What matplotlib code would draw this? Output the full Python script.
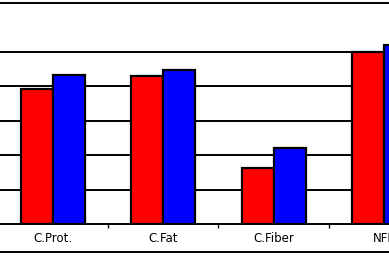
import matplotlib
matplotlib.use("Agg")
import matplotlib.pyplot as plt
from matplotlib.lines import Line2D
import numpy as np

categories = ["C.Prot.", "C.Fat", "C.Fiber", "NFE"]
series_red = [39.2, 43.0, 16.3, 49.9]
series_blue = [43.3, 44.8, 22.1, 52.1]
gridlines = [10, 20, 30, 40, 50]

W, H = 389, 257
fig = plt.figure(figsize=(W / 100, H / 100), dpi=100)
ax = fig.add_axes([0, 33 / H, 1, 221.3 / H])

x = np.arange(len(categories))
bw = 0.29
ax.bar(x - bw / 2, series_red, width=bw, color="#FF0000", edgecolor="black",
       linewidth=1.6, zorder=3)
ax.bar(x + bw / 2, series_blue, width=bw, color="#0000FF", edgecolor="black",
       linewidth=1.6, zorder=3)

ax.set_xlim(-53 / 110.3, 336 / 110.3)
ax.set_ylim(0, 64.3)

for g in gridlines:
    ax.axhline(g, color="black", linewidth=1.4, zorder=1)

ax.set_yticks([])
ax.set_xticks(x)
ax.set_xticklabels(categories, fontsize=8.5, family="DejaVu Sans")
ax.tick_params(axis="x", which="major", length=0, pad=6)
ax.set_xticks([0.5, 1.5, 2.5], minor=True)
ax.tick_params(axis="x", which="minor", length=3, width=1, direction="out")

ax.spines["left"].set_visible(False)
ax.spines["right"].set_visible(False)
ax.spines["top"].set_linewidth(1.4)
ax.spines["bottom"].set_linewidth(1.4)

fig.add_artist(Line2D([0, 1], [1 - 252 / H, 1 - 252 / H], transform=fig.transFigure,
                      color="black", linewidth=1.4))

fig.savefig("out.png", dpi=100)
